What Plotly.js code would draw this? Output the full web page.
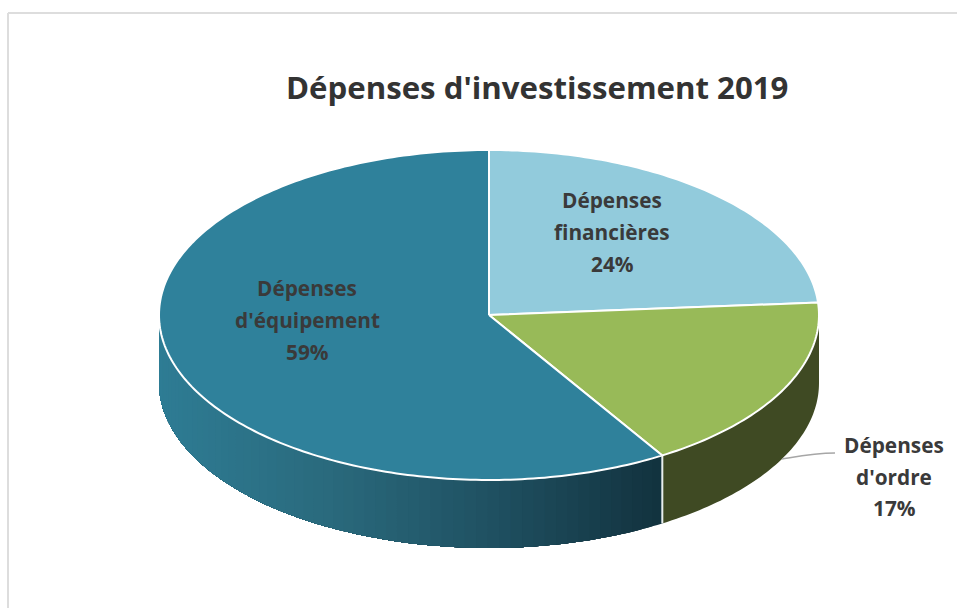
<!DOCTYPE html>
<html><head><meta charset="utf-8">
<script src="https://cdn.plot.ly/plotly-3.0.1.min.js"></script>
<style>html,body{margin:0;padding:0;background:#fff}</style>
</head><body><div id="chart" style="width:957px;height:608px"></div>
<script>
const categories = ["Dépenses financières", "Dépenses d'ordre", "Dépenses d'équipement"];
const values = [23.8, 17.4, 58.8];
const topColors = ["#92CBDC", "#98BA58", "#2F819B"];
const wallColors = [null, ["#3F4A23", "#3F4A23"], ["#2E7C94", "#2A6A7D", "#1F5061", "#12323E"]];
const labelLines = [["Dépenses", "financières"], ["Dépenses", "d'ordre"], ["Dépenses", "d'équipement"]];
const labelCenters = [[612, 232], [894, 476.5], [307, 320]];
const titleText = "Dépenses d'investissement 2019";

const cx = 489, cy = 315, rx = 330, ry = 165, depth = 68;
const total = values.reduce((a, b) => a + b, 0);
const pt = (deg, dy = 0) => {
  const r = deg * Math.PI / 180;
  return [cx + rx * Math.sin(r), cy - ry * Math.cos(r) + dy];
};
const arc = (a, b, dy = 0, step = 1) => {
  const n = Math.max(1, Math.ceil(Math.abs(b - a) / step)), out = [];
  for (let i = 0; i <= n; i++) out.push(pt(a + (b - a) * i / n, dy));
  return out;
};
const hex = c => [1, 3, 5].map(i => parseInt(c.slice(i, i + 2), 16));
const ramp = (stops, f) => {
  const p = Math.min(0.9999, Math.max(0, f)) * (stops.length - 1), i = Math.floor(p), k = p - i;
  const A = hex(stops[i]), B = hex(stops[Math.min(i + 1, stops.length - 1)]);
  return "rgb(" + A.map((v, j) => Math.round(v + (B[j] - v) * k)).join(",") + ")";
};
const poly = (pts, fill, lineColor, w) => ({
  type: "scatter", mode: "lines", x: pts.map(p => p[0]), y: pts.map(p => p[1]),
  fill: "toself", fillcolor: fill, line: {color: lineColor, width: w, simplify: false},
  hoverinfo: "skip", showlegend: false
});
const path = (pts, color, w) => ({
  type: "scatter", mode: "lines", x: pts.map(p => p[0]), y: pts.map(p => p[1]),
  line: {color: color, width: w, simplify: false}, hoverinfo: "skip", showlegend: false
});

const traces = [];
const bounds = [];
let acc = 0;
values.forEach(v => { const a = acc / total * 360; acc += v; bounds.push([a, acc / total * 360]); });

// side wall, front half only; each band runs to the far end and the next one paints over it
bounds.forEach((b, i) => {
  const a0 = Math.max(b[0], 90), a1 = Math.min(b[1], 270);
  if (a1 <= a0 || !wallColors[i]) return;
  const xL = pt(a1)[0], xR = pt(a0)[0];
  const solid = wallColors[i][0] === wallColors[i][1];
  const n = solid ? 1 : Math.ceil((a1 - a0) / 2);
  for (let s = 0; s < n; s++) {
    const p = a0 + (a1 - a0) * s / n, q = a0 + (a1 - a0) * (s + 1) / n;
    const xm = (pt(p)[0] + pt(q)[0]) / 2;
    const col = ramp(wallColors[i], (xm - xL) / (xR - xL));
    traces.push(poly(arc(p, a1, 0, 1).concat(arc(a1, p, depth, 1)), col, col, 0));
  }
});
// separator on the wall
const sep = bounds[1][1];
traces.push(path([pt(sep), pt(sep, depth)], "#E8EEEE", 2));

// top face
bounds.forEach((b, i) => {
  traces.push(poly([[cx, cy]].concat(arc(b[0], b[1])).concat([[cx, cy]]), topColors[i], "#FFFFFF", 2));
});

const annotations = [{
  text: "<b>" + titleText + "</b>", x: 537, y: 87, xref: "x", yref: "y", showarrow: false,
  font: {family: "Open Sans, sans-serif", size: 31.2, color: "#333333"}, xanchor: "center", yanchor: "middle"
}];
labelLines.forEach((lines, i) => {
  const parts = lines.concat([Math.round(values[i] / total * 100) + "%"]);
  parts.forEach((t, j) => annotations.push({
    text: "<b>" + t + "</b>", x: labelCenters[i][0], y: labelCenters[i][1] + (j - 1) * 31.7,
    xref: "x", yref: "y", showarrow: false, xanchor: "center", yanchor: "middle",
    font: {family: "Open Sans, sans-serif", size: 20.8, color: "#3A3A3A"}
  }));
});

const layout = {
  width: 957, height: 608, margin: {l: 0, r: 0, t: 0, b: 0},
  paper_bgcolor: "#FFFFFF", plot_bgcolor: "#FFFFFF", showlegend: false,
  xaxis: {range: [0, 957], visible: false, fixedrange: true},
  yaxis: {range: [608, 0], visible: false, fixedrange: true},
  annotations: annotations,
  shapes: [
    {type: "line", xref: "x", yref: "y", x0: 8, x1: 957, y0: 13, y1: 13, line: {color: "#DDDDDD", width: 2}},
    {type: "line", xref: "x", yref: "y", x0: 8, x1: 8, y0: 13, y1: 608, line: {color: "#DDDDDD", width: 2}},
    {type: "path", xref: "x", yref: "y", path: "M782,459 C800,456 815,453 835,453", line: {color: "#A6A6A6", width: 1.5}}
  ]
};
Plotly.newPlot("chart", traces, layout, {displayModeBar: false, staticPlot: true});
</script></body></html>
